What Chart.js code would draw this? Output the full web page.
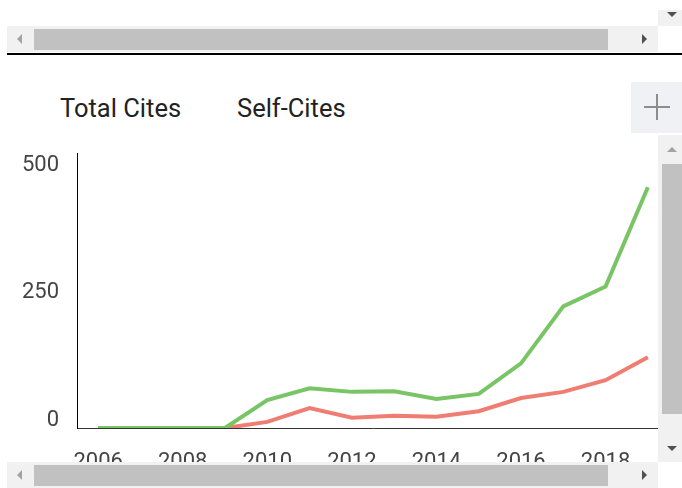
<!DOCTYPE html>
<html>
<head>
<meta charset="utf-8">
<script src="https://cdn.jsdelivr.net/npm/chart.js@4/dist/chart.umd.min.js"></script>
<style>
	body { margin: 0; width: 682px; height: 488px; position: relative; overflow: hidden; background: #fff; font-family: Roboto, sans-serif; }
	.abs { position: absolute; }
	.track { background: #f1f1f1; }
	.thumb { background: #c1c1c1; }
	.tri { position: absolute; width: 0; height: 0; border-style: solid; }
	.tl { border-width: 5px 5px 5px 0; border-color: transparent #a3a3a3 transparent transparent; }
	.tr { border-width: 5px 0 5px 5px; border-color: transparent transparent transparent #505050; }
	.tu { border-width: 0 5px 5px 5px; border-color: transparent transparent #a3a3a3 transparent; }
	.td { border-width: 5px 5px 0 5px; border-color: #505050 transparent transparent transparent; }
	.legend { position: absolute; top: 94px; font-size: 25.5px; line-height: 28px; color: #222; white-space: nowrap; }
	#wrap { position: absolute; left: 0; top: 122px; width: 682px; height: 366px; }
</style>
</head>
<body>
<!-- top panel scrollbars -->
<div class="abs track" style="left:658px;top:10px;width:24px;height:16px"></div>
<div class="tri td" style="left:667px;top:12px"></div>
<div class="abs track" style="left:7px;top:26px;width:651px;height:26px"></div>
<div class="abs thumb" style="left:34px;top:29px;width:574px;height:21px"></div>
<div class="tri tl" style="left:17px;top:34px"></div>
<div class="tri tr" style="left:642px;top:34px"></div>
<div class="abs" style="left:7px;top:53px;width:675px;height:2px;background:#000"></div>

<!-- plus button -->
<div class="abs" style="left:631px;top:82px;width:51px;height:51px;background:#f0f1f5"></div>
<div class="abs" style="left:644px;top:106px;width:26px;height:2px;background:#8c8c8c"></div>
<div class="abs" style="left:656px;top:94px;width:2px;height:26px;background:#8c8c8c"></div>

<div id="legend"></div>

<div id="wrap"><canvas id="CitesChart"></canvas></div>

<!-- chart panel scrollbars -->
<div class="abs track" style="left:658px;top:135px;width:24px;height:327px"></div>
<div class="tri tu" style="left:667px;top:147px"></div>
<div class="abs thumb" style="left:662px;top:164px;width:20px;height:250px"></div>
<div class="tri td" style="left:667px;top:446px"></div>
<div class="abs track" style="left:7px;top:462px;width:651px;height:26px"></div>
<div class="abs thumb" style="left:34px;top:465px;width:574px;height:21px"></div>
<div class="tri tl" style="left:17px;top:470px"></div>
<div class="tri tr" style="left:642px;top:470px"></div>

<script>
var years = ["2006", "2007", "2008", "2009", "2010", "2011", "2012", "2013", "2014", "2015", "2016", "2017", "2018", "2019"];
var totalCites = [0, 0, 0, 0, 55, 78, 71, 72, 57, 67, 127, 239, 278, 473];
var selfCites = [0, 0, 0, 0, 12, 39, 20, 24, 22, 33, 59, 71, 94, 139];
var seriesNames = ["Total Cites", "Self-Cites"];
var yTicks = [0, 250, 500];

// html legend, text only
var legendLeft = [60, 237];
seriesNames.forEach(function(name, i){
	var d = document.createElement("div");
	d.className = "legend";
	d.style.left = legendLeft[i] + "px";
	d.textContent = name;
	document.getElementById("legend").appendChild(d);
});

new Chart(document.getElementById("CitesChart").getContext("2d"), {
	type: "line",
	data: {
		labels: years,
		datasets: [{
			label: seriesNames[0],
			data: totalCites,
			borderColor: "#79c566",
			borderWidth: 4,
			pointRadius: 0,
			fill: false
		}, {
			label: seriesNames[1],
			data: selfCites,
			borderColor: "#f07d72",
			borderWidth: 4,
			pointRadius: 0,
			fill: false
		}]
	},
	options: {
		responsive: true,
		maintainAspectRatio: false,
		animation: false,
		layout: { padding: { left: 0, top: 1, right: 13, bottom: 0 } },
		plugins: {
			legend: { display: false },
			tooltip: { enabled: false }
		},
		scales: {
			x: {
				offset: true,
				grid: { display: false, drawTicks: false },
				border: { color: "#333", width: 1 },
				ticks: {
					autoSkip: false,
					maxRotation: 0,
					padding: 21,
					color: "#444",
					font: { family: "Roboto", size: 22 },
					callback: function(val, i){ return i % 2 === 0 ? years[i] : ""; }
				},
				afterFit: function(s){ s.height = 60; }
			},
			y: {
				min: 0,
				max: 540,
				grid: { display: false, drawTicks: false },
				border: { color: "#000", width: 1 },
				afterBuildTicks: function(s){ s.ticks = yTicks.map(function(v){ return { value: v }; }); },
				ticks: {
					padding: 18,
					labelOffset: -8,
					color: "#444",
					font: { family: "Roboto", size: 22 }
				},
				afterFit: function(s){ s.width = 77; }
			}
		}
	}
});
</script>
</body>
</html>
